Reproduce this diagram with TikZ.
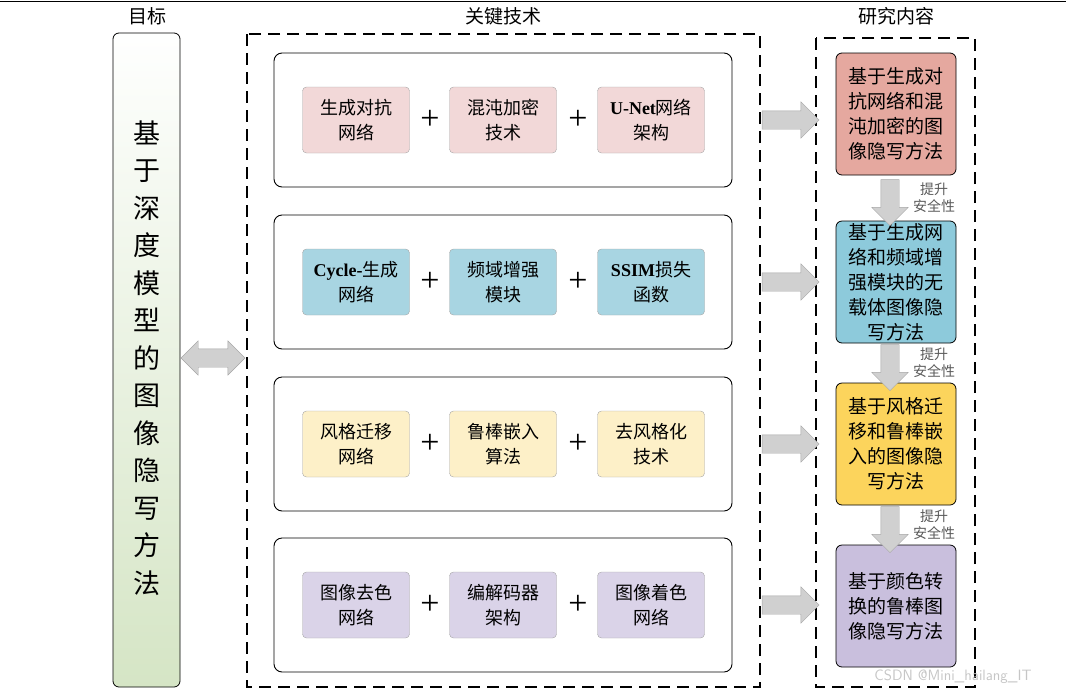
\documentclass[tikz,border=0pt]{standalone}
\usepackage{fontspec}
\setmainfont{Liberation Serif}
\newfontfamily\cjk{Noto Sans CJK SC}
\newfontfamily\latb{Liberation Serif}
\newcommand\lat[1]{{\latb\bfseries #1}}
\usetikzlibrary{shapes.arrows}
\definecolor{pk}{HTML}{F2D8D8}
\definecolor{bl}{HTML}{A8D5E2}
\definecolor{yl}{HTML}{FDF0C8}
\definecolor{lv}{HTML}{DAD3E8}
\definecolor{pk2}{HTML}{E5A89F}
\definecolor{bl2}{HTML}{8DCADB}
\definecolor{yl2}{HTML}{FCD45C}
\definecolor{lv2}{HTML}{C9BFDD}
\definecolor{arr}{HTML}{D0D0D0}
\tikzset{
 panel/.style={draw,rounded corners=8,line width=0.9pt,minimum width=458,minimum height=134},
 tech/.style={draw=gray!70,rounded corners=4,minimum width=107,minimum height=66,align=center,font=\cjk\fontsize{18}{25}\selectfont,inner sep=0},
 res/.style={draw,rounded corners=6,line width=0.8pt,minimum width=120,minimum height=122,align=center,font=\cjk\fontsize{19}{25}\selectfont,inner sep=0},
 fat/.style={single arrow,draw=gray!70,fill=arr,inner xsep=0,inner ysep=9,minimum width=36,single arrow head extend=9},
 plus/.style={font=\fontsize{34}{34}\selectfont},
 title/.style={font=\cjk\fontsize{19}{20}\selectfont},
 note/.style={font=\cjk\fontsize{14}{17}\selectfont,text=gray!70!black,align=center},
 dbox/.style={draw,dashed,dash pattern=on 12pt off 7pt,line width=1.3pt}
}
\begin{document}
\begin{tikzpicture}[x=1pt,y=-1pt]
\useasboundingbox (0,0) rectangle (1066,694);
\draw[line width=1pt] (0,1) -- (1066,1);
\node[title] (t1) at (147,16) {目标};
\node[title] (t2) at (503,16) {关键技术};
\node[title] (t3) at (896,16) {研究内容};
\shade[top color=white!95!green!5, bottom color={rgb,255:red,213;green,229;blue,197},rounded corners=6] (113,33) rectangle (180,687);
\draw[rounded corners=6,line width=0.8pt] (113,33) rectangle (180,687);
\node[font=\cjk\fontsize{27}{37.5}\selectfont,align=center] (goal) at (146.5,358) {基\\于\\深\\度\\模\\型\\的\\图\\像\\隐\\写\\方\\法};
\node[double arrow,draw=gray!70,fill=arr,inner xsep=0,inner ysep=9,minimum width=34,double arrow head extend=8,minimum height=64] (da) at (213,358) {};
\draw[dbox] (247,34) rectangle (760,687);
\draw[dbox] (816,38) rectangle (975,687);
\foreach \y/\c/\a/\b/\d [count=\i] in {
 120/pk/{生成对抗\\网络}/{混沌加密\\技术}/{\lat{U-Net}网络\\架构},
 282/bl/{\lat{Cycle-}生成\\网络}/{频域增强\\模块}/{\lat{SSIM}损失\\函数},
 444/yl/{风格迁移\\网络}/{鲁棒嵌入\\算法}/{去风格化\\技术},
 605/lv/{图像去色\\网络}/{编解码器\\架构}/{图像着色\\网络}}{
 \node[panel] (p\i) at (503,\y) {};
 \node[tech,fill=\c] (a\i) at (356,\y) {\a};
 \node[tech,fill=\c] (b\i) at (503,\y) {\b};
 \node[tech,fill=\c] (c\i) at (651,\y) {\d};
 \node[plus] (pa\i) at (430,\y) {+};
 \node[plus] (pb\i) at (578,\y) {+};
 \node[fat,minimum height=57] (ra\i) at (786,\y) {};
}
\node[res,fill=pk2] (r1) at (896,114) {基于生成对\\抗网络和混\\沌加密的图\\像隐写方法};
\node[res,fill=bl2] (r2) at (896,282) {基于生成网\\络和频域增\\强模块的无\\载体图像隐\\写方法};
\node[res,fill=yl2] (r3) at (896,444) {基于风格迁\\移和鲁棒嵌\\入的图像隐\\写方法};
\node[res,fill=lv2] (r4) at (896,606) {基于颜色转\\换的鲁棒图\\像隐写方法};
\foreach \i/\j in {1/2,2/3,3/4}{
 \path (r\i.south) -- (r\j.north) coordinate[pos=0.5] (m\i\j);
 \node[fat,rotate=-90,minimum height=46] (d\i\j) at ([xshift=-6]m\i\j) {};
 \node[note] (n\i\j) at ([xshift=38]m\i\j) {提升\\安全性};
}
\node[font=\fontsize{15}{15}\selectfont\sffamily,text=gray!45] (wm) at (953,677) {CSDN @Mini\_hailang\_IT};
\end{tikzpicture}
\end{document}
